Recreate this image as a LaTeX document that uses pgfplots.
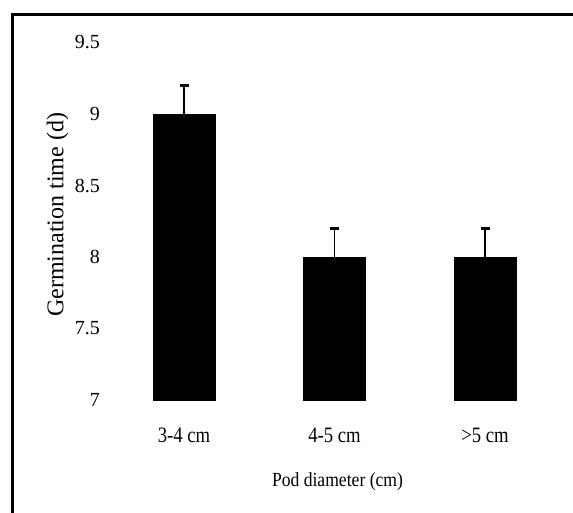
\documentclass[border=0pt]{standalone}
\usepackage{fontspec}
\setmainfont{Liberation Serif}
\usepackage{pgfplots}
\pgfplotsset{compat=1.18}
\begin{document}
\begin{tikzpicture}
\useasboundingbox (0,0) rectangle (573pt,512pt);
\draw[line width=3pt] (12.5pt,-10pt) -- (12.5pt,497pt) -- (590pt,497pt);
\begin{axis}[
  at={(108.75pt,112pt)}, anchor=south west,
  scale only axis, width=451.5pt, height=357.5pt,
  xmin=-0.5, xmax=2.5, ymin=7, ymax=9.5,
  enlargelimits=false,
  axis line style={draw=none},
  major tick length=0pt,
  ybar, bar width=62pt,
  xtick={0,1,2},
  xticklabels={{\scalebox{0.85}[1]{3-4 cm}}, {\scalebox{0.85}[1]{4-5 cm}}, {\scalebox{0.85}[1]{>5 cm}}},
  ytick={7,7.5,8,8.5,9,9.5},
  yticklabels={7,7.5,8,8.5,9,9.5},
  /pgf/number format/assume math mode=true,
  yticklabel style={font=\fontsize{20}{20}\selectfont, anchor=east, inner sep=0pt, xshift=-8.75pt},
  xticklabel style={font=\fontsize{22}{22}\selectfont, anchor=north, inner sep=0pt, yshift=-27.6pt},
]
\addplot[fill=black, draw=black,
  error bars/.cd, y dir=plus, y explicit, error mark=|,
  error bar style={line width=1.5pt, black},
  error mark options={line width=2.5pt, mark size=4.5pt, black}]
  coordinates {(0,9.0) +- (0,0.2) (1,8.0) +- (0,0.2) (2,8.0) +- (0,0.2)};
\end{axis}
\node[rotate=90, inner sep=0pt, font=\fontsize{24}{24}\selectfont] at (57.5pt,297pt) {Germination time (d)};
\node[inner sep=0pt, font=\fontsize{20}{20}\selectfont] at (337.5pt,30pt) {\scalebox{0.88}[1]{Pod diameter (cm)}};
\end{tikzpicture}
\end{document}
